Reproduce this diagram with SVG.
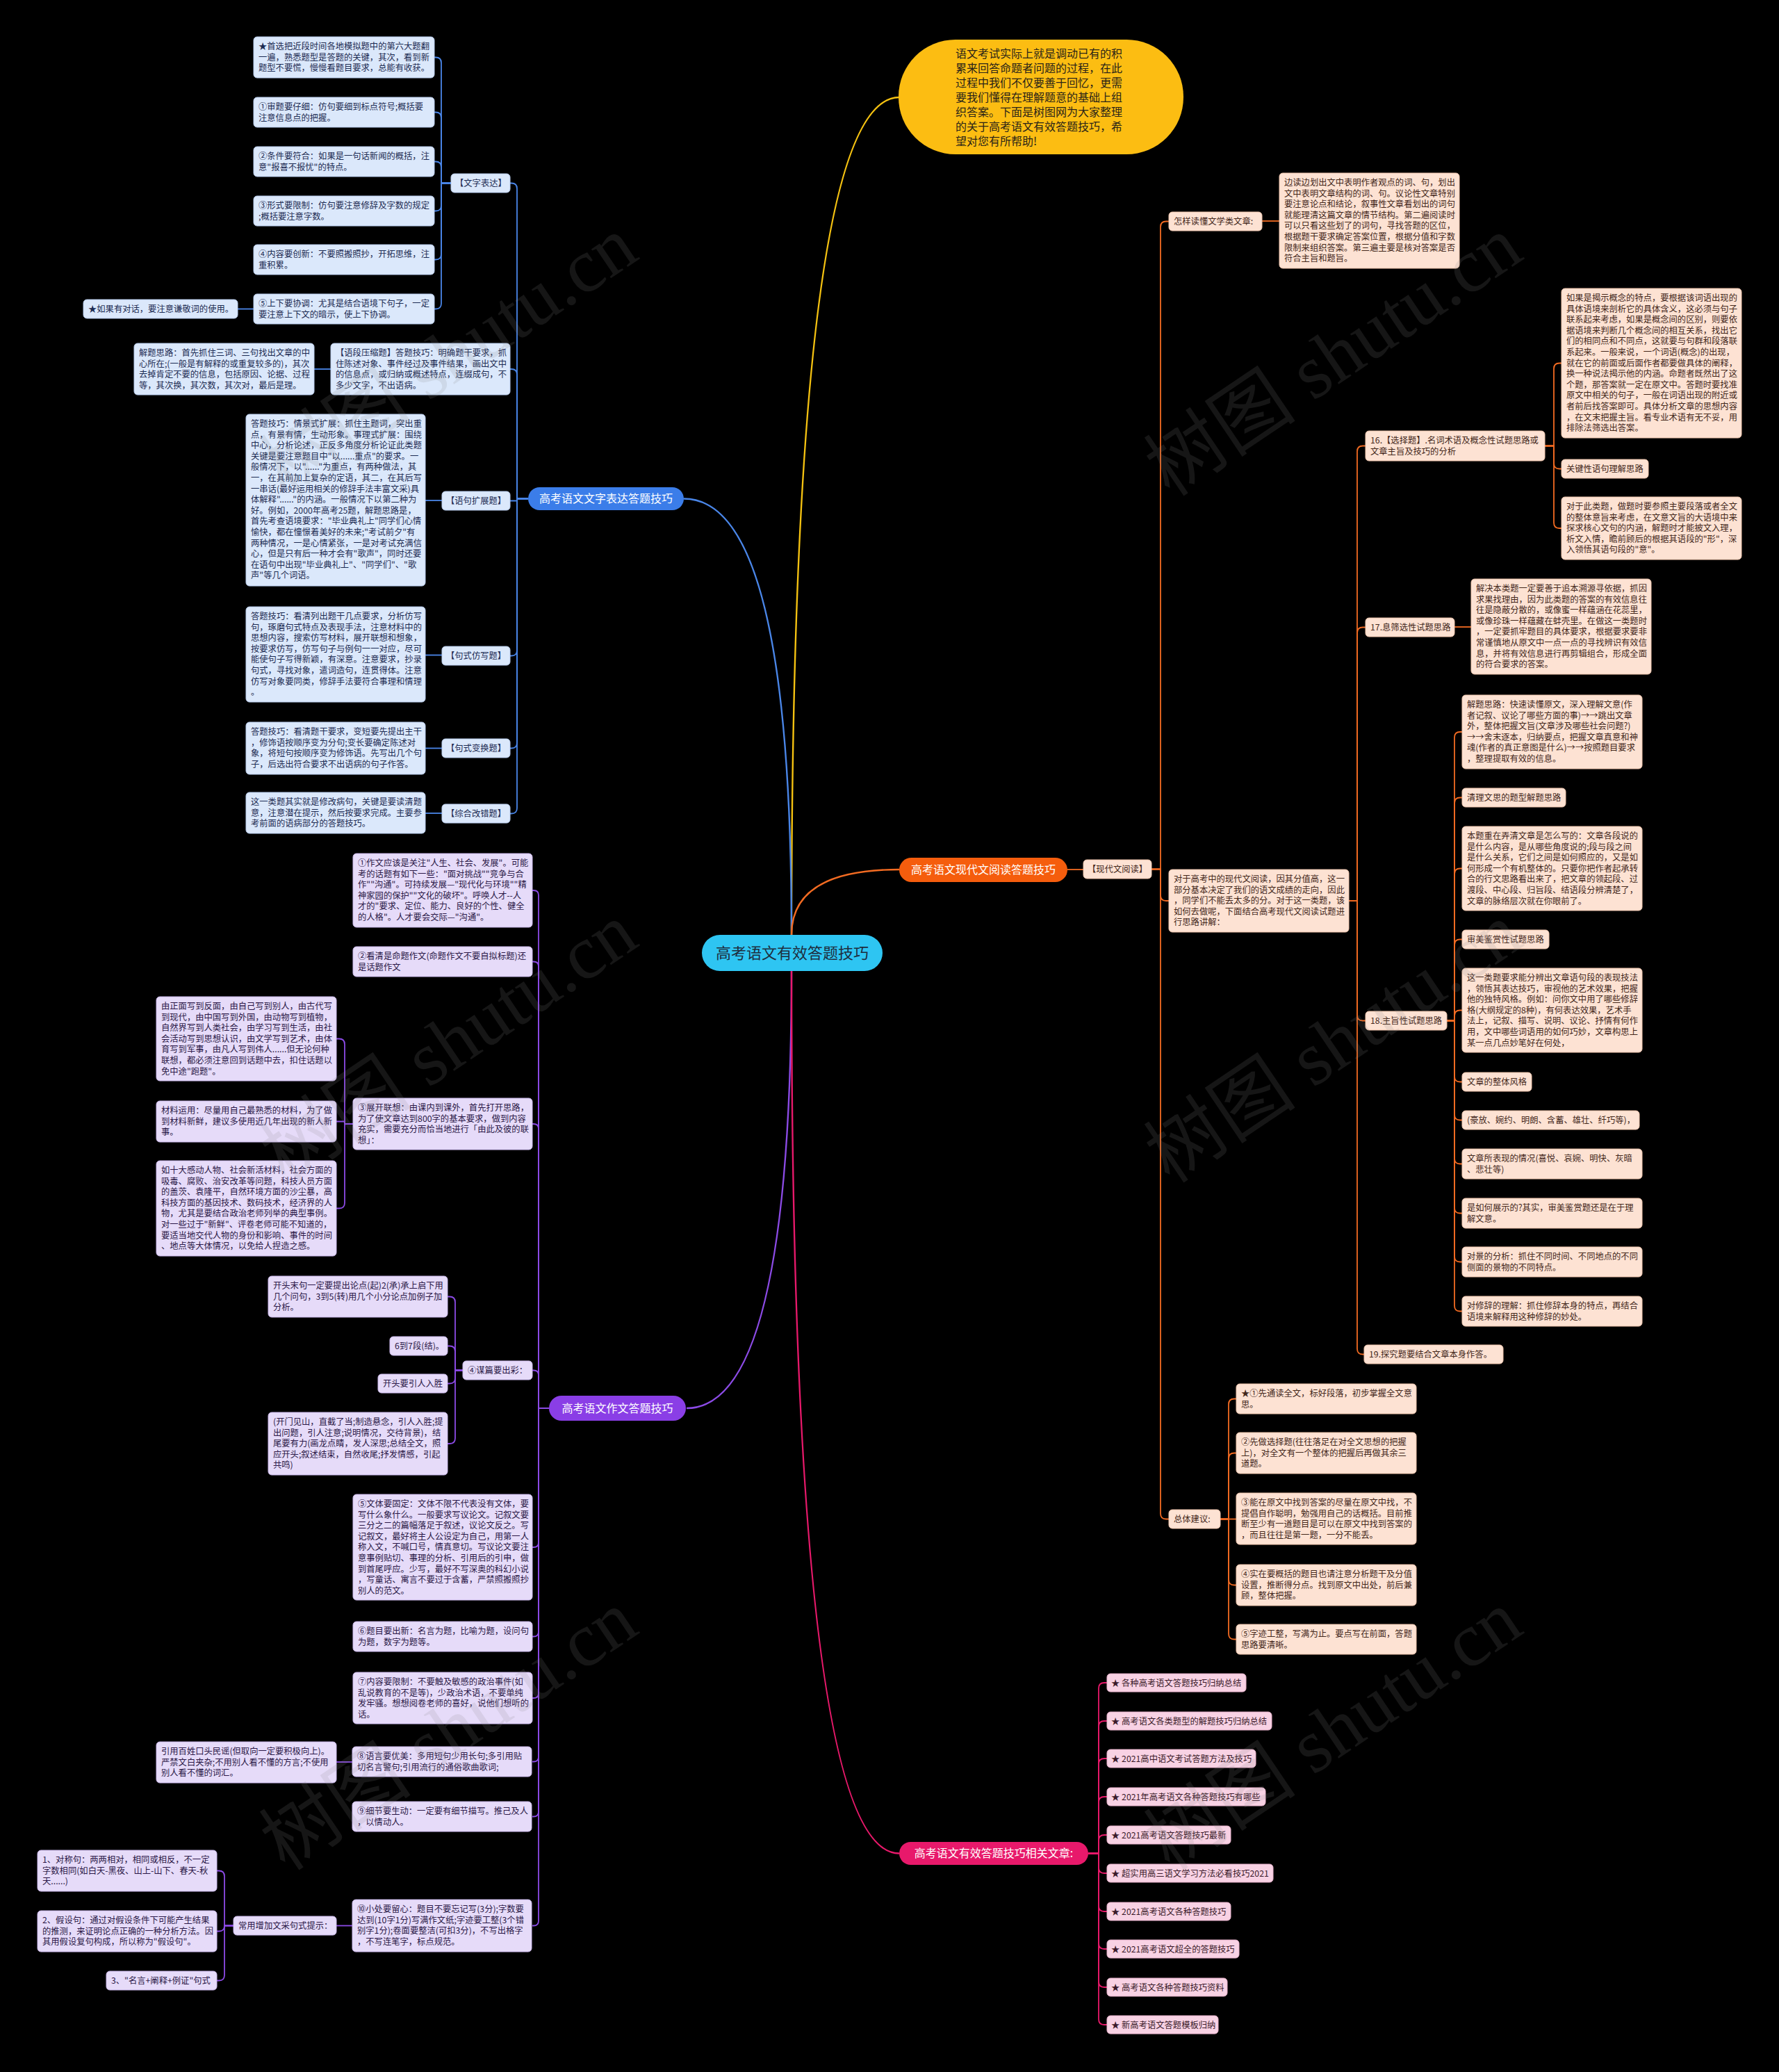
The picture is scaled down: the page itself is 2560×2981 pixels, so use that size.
<svg xmlns="http://www.w3.org/2000/svg" width="2560" height="2981" viewBox="0 0 2560 2981">
<style>
.t{font-family:'Noto Sans CJK SC','Liberation Sans',sans-serif;font-size:12.3px}
.bb{fill:#dbe8fb;stroke:#b9cdee;stroke-width:1}
.bt{fill:#1c2b52}
.pb{fill:#e6dbf9;stroke:#cbb9ec;stroke-width:1}
.pt{fill:#2b1847}
.ob{fill:#fde2d3;stroke:#efc5ad;stroke-width:1}
.ot{fill:#43271a}
.kb{fill:#f8d2e4;stroke:#e9b3cd;stroke-width:1}
.kt{fill:#3b1a2a}
.br{font-family:'Noto Sans CJK SC','Liberation Sans',sans-serif;font-size:16px;fill:#ffffff;text-anchor:middle}
.c{fill:none;stroke-width:1.8}
.m{fill:none;stroke-width:2.4}
.cb{stroke:#4a86e8}.cp{stroke:#8c4be6}.co{stroke:#f26b22}.ck{stroke:#e8196b}.cy{stroke:#f5c211}
.wm{font-family:'Liberation Serif','Noto Sans CJK SC',serif;font-size:110px;fill:#8a8a8a;fill-opacity:0.16;text-anchor:middle}
</style>
<rect x="0" y="0" width="2560" height="2981" fill="#000000"/>

<g id="connectors">
<path class="m cy" d="M1139,1345Q1139,140 1294,140"/>
<path class="m cb" d="M1139,1345Q1139,717.5 984,717.5"/>
<path class="m co" d="M1139,1345Q1139,1251 1294,1251"/>
<path class="m cp" d="M1139,1397Q1139,2026 988,2026"/>
<path class="m ck" d="M1139,1397Q1139,2666.5 1294,2666.5"/>

<path class="c cb" d="M760,717.5H744V271.5Q744,263.5 736,263.5H734"/>
<path class="c cb" d="M760,717.5H744V539Q744,531 736,531H734"/>
<path class="c cb" d="M760,717.5H744V720.5H734"/>
<path class="c cb" d="M760,717.5H744V935.5Q744,943.5 736,943.5H734"/>
<path class="c cb" d="M760,717.5H744V1068.5Q744,1076.5 736,1076.5H734"/>
<path class="c cb" d="M760,717.5H744V1162.5Q744,1170.5 736,1170.5H734"/>
<path class="c cb" d="M649,263.5H635V90.5Q635,82.5 627,82.5H625"/>
<path class="c cb" d="M649,263.5H635V169.5Q635,161.5 627,161.5H625"/>
<path class="c cb" d="M649,263.5H635V240.5Q635,232.5 627,232.5H625"/>
<path class="c cb" d="M649,263.5H635V295.5Q635,303.5 627,303.5H625"/>
<path class="c cb" d="M649,263.5H635V365.5Q635,373.5 627,373.5H625"/>
<path class="c cb" d="M649,263.5H635V436.5Q635,444.5 627,444.5H625"/>
<path class="c cb" d="M365,444.5H342"/>
<path class="c cb" d="M476,531H452"/>
<path class="c cb" d="M636,720H612"/>
<path class="c cb" d="M636,942.5H612"/>
<path class="c cb" d="M636,1076.5H612"/>
<path class="c cb" d="M636,1170H612"/>

<path class="c cp" d="M790,2026H775V1288Q775,1281 768,1281H766"/>
<path class="c cp" d="M790,2026H775V1390.5Q775,1383.5 768,1383.5H766"/>
<path class="c cp" d="M790,2026H775V1624Q775,1617 768,1617H766"/>
<path class="c cp" d="M790,2026H775V1978.5Q775,1971.5 768,1971.5H766"/>
<path class="c cp" d="M790,2026H775V2219Q775,2226 768,2226H766"/>
<path class="c cp" d="M790,2026H775V2347.5Q775,2354.5 768,2354.5H766"/>
<path class="c cp" d="M790,2026H775V2436Q775,2443 768,2443H766"/>
<path class="c cp" d="M790,2026H775V2527.5Q775,2534.5 768,2534.5H766"/>
<path class="c cp" d="M790,2026H775V2606.5Q775,2613.5 768,2613.5H766"/>
<path class="c cp" d="M790,2026H775V2763.5Q775,2770.5 768,2770.5H766"/>
<path class="c cp" d="M508,1617H496V1502.5Q496,1494.5 488,1494.5H484"/>
<path class="c cp" d="M508,1617H496V1613.5H484"/>
<path class="c cp" d="M508,1617H496V1730.5Q496,1738.5 488,1738.5H484"/>
<path class="c cp" d="M666,1971.5H655V1873.5Q655,1865.5 647,1865.5H644"/>
<path class="c cp" d="M666,1971.5H655V1944.5Q655,1936.5 647,1936.5H644"/>
<path class="c cp" d="M666,1971.5H655V1982.5Q655,1990.5 647,1990.5H644"/>
<path class="c cp" d="M666,1971.5H655V2069Q655,2077 647,2077H644"/>
<path class="c cp" d="M507,2535H484"/>
<path class="c cp" d="M507,2770.5H484"/>
<path class="c cp" d="M336,2770.5H323V2699.5Q323,2691.5 315,2691.5H312"/>
<path class="c cp" d="M336,2770.5H323Q323,2778.5 315,2778.5H312"/>
<path class="c cp" d="M336,2770.5H323V2841.5Q323,2849.5 315,2849.5H312"/>

<path class="c co" d="M1536,1251H1559"/>
<path class="c co" d="M1657,1250.5H1670V326.5Q1670,318.5 1678,318.5H1682"/>
<path class="c co" d="M1657,1250.5H1670V1288Q1670,1296 1678,1296H1682"/>
<path class="c co" d="M1657,1250.5H1670V2177.5Q1670,2185.5 1678,2185.5H1682"/>
<path class="c co" d="M1816,318H1841"/>
<path class="c co" d="M1941,1296H1953V649.5Q1953,641.5 1961,641.5H1965"/>
<path class="c co" d="M1941,1296H1953V910.5Q1953,902.5 1961,902.5H1965"/>
<path class="c co" d="M1941,1296H1953V1460.5Q1953,1468.5 1961,1468.5H1965"/>
<path class="c co" d="M1941,1296H1953V1940.5Q1953,1948.5 1961,1948.5H1963"/>
<path class="c co" d="M2223,641.5H2236V530.5Q2236,522.5 2244,522.5H2247"/>
<path class="c co" d="M2223,641.5H2236V666.5Q2236,674.5 2244,674.5H2247"/>
<path class="c co" d="M2223,641.5H2236V752Q2236,760 2244,760H2247"/>
<path class="c co" d="M2093,902H2117"/>
<path class="c co" d="M2082,1468.5H2093V1061Q2093,1053 2101,1053H2104"/>
<path class="c co" d="M2082,1468.5H2093V1155.5Q2093,1147.5 2101,1147.5H2104"/>
<path class="c co" d="M2082,1468.5H2093V1257.5Q2093,1249.5 2101,1249.5H2104"/>
<path class="c co" d="M2082,1468.5H2093V1359.5Q2093,1351.5 2101,1351.5H2104"/>
<path class="c co" d="M2082,1468.5H2093V1461.5Q2093,1453.5 2101,1453.5H2104"/>
<path class="c co" d="M2082,1468.5H2093V1548.5Q2093,1556.5 2101,1556.5H2104"/>
<path class="c co" d="M2082,1468.5H2093V1603.5Q2093,1611.5 2101,1611.5H2104"/>
<path class="c co" d="M2082,1468.5H2093V1666.5Q2093,1674.5 2101,1674.5H2104"/>
<path class="c co" d="M2082,1468.5H2093V1737.5Q2093,1745.5 2101,1745.5H2104"/>
<path class="c co" d="M2082,1468.5H2093V1807.5Q2093,1815.5 2101,1815.5H2104"/>
<path class="c co" d="M2082,1468.5H2093V1878.5Q2093,1886.5 2101,1886.5H2104"/>
<path class="c co" d="M1756,2185.5H1768V2020.5Q1768,2012.5 1776,2012.5H1779"/>
<path class="c co" d="M1756,2185.5H1768V2098.5Q1768,2090.5 1776,2090.5H1779"/>
<path class="c co" d="M1756,2185.5H1779"/>
<path class="c co" d="M1756,2185.5H1768V2272.5Q1768,2280.5 1776,2280.5H1779"/>
<path class="c co" d="M1756,2185.5H1768V2350.5Q1768,2358.5 1776,2358.5H1779"/>

<path class="c ck" d="M1566,2666.5H1581V2429Q1581,2421 1589,2421H1593"/>
<path class="c ck" d="M1566,2666.5H1581V2484Q1581,2476 1589,2476H1593"/>
<path class="c ck" d="M1566,2666.5H1581V2538Q1581,2530 1589,2530H1593"/>
<path class="c ck" d="M1566,2666.5H1581V2593Q1581,2585 1589,2585H1593"/>
<path class="c ck" d="M1566,2666.5H1581V2648Q1581,2640 1589,2640H1593"/>
<path class="c ck" d="M1566,2666.5H1581V2687Q1581,2695 1589,2695H1593"/>
<path class="c ck" d="M1566,2666.5H1581V2742Q1581,2750 1589,2750H1593"/>
<path class="c ck" d="M1566,2666.5H1581V2796Q1581,2804 1589,2804H1593"/>
<path class="c ck" d="M1566,2666.5H1581V2851Q1581,2859 1589,2859H1593"/>
<path class="c ck" d="M1566,2666.5H1581V2905Q1581,2913 1589,2913H1593"/>
</g>

<g id="center"><rect x="1010" y="1345" width="260" height="52" rx="26" fill="#2ec5f2"/><text x="1140" y="1379" font-family="'Noto Sans CJK SC','Liberation Sans',sans-serif" font-size="22" fill="#1e2d3d" text-anchor="middle">高考语文有效答题技巧</text></g>

<g id="intro"><rect x="1293" y="57" width="410" height="165" rx="82" fill="#fcbd12"/>
<text font-family="'Noto Sans CJK SC','Liberation Sans',sans-serif" font-size="16" fill="#2a2418"><tspan x="1375" y="83">语文考试实际上就是调动已有的积</tspan><tspan x="1375" y="104">累来回答命题者问题的过程，在此</tspan><tspan x="1375" y="125">过程中我们不仅要善于回忆，更需</tspan><tspan x="1375" y="146">要我们懂得在理解题意的基础上组</tspan><tspan x="1375" y="167">织答案。下面是树图网为大家整理</tspan><tspan x="1375" y="188">的关于高考语文有效答题技巧，希</tspan><tspan x="1375" y="209">望对您有所帮助!</tspan></text></g>

<g id="b-blue"><rect x="760" y="701" width="224" height="33" rx="16.5" fill="#3b7de9"/><text class="br" x="872" y="723">高考语文文字表达答题技巧</text></g>
<g id="b-orange"><rect x="1294" y="1234" width="242" height="35" rx="17.5" fill="#f55d0d"/><text class="br" x="1415" y="1257">高考语文现代文阅读答题技巧</text></g>
<g id="b-purple"><rect x="790" y="2008" width="197" height="36" rx="18" fill="#8a3ee6"/><text class="br" x="888.5" y="2032">高考语文作文答题技巧</text></g>
<g id="b-pink"><rect x="1294" y="2650" width="272" height="33" rx="16.5" fill="#e8196b"/><text class="br" x="1430" y="2672">高考语文有效答题技巧相关文章:</text></g>

<g id="a1"><rect class="bb" x="365" y="53" width="260" height="59" rx="5"/><text class="t bt"><tspan x="372" y="71">★首选把近段时间各地模拟题中的第六大题翻</tspan><tspan x="372" y="86.6">一遍，熟悉题型是答题的关键，其次，看到新</tspan><tspan x="372" y="102.2">题型不要慌，慢慢看题目要求，总能有收获。</tspan></text></g>
<g id="a2"><rect class="bb" x="365" y="140" width="260" height="43" rx="5"/><text class="t bt"><tspan x="372" y="158">①审题要仔细：仿句要细到标点符号;概括要</tspan><tspan x="372" y="173.6">注意信息点的把握。</tspan></text></g>
<g id="a3"><rect class="bb" x="365" y="211" width="260" height="43" rx="5"/><text class="t bt"><tspan x="372" y="229">②条件要符合：如果是一句话新闻的概括，注</tspan><tspan x="372" y="244.6">意"报喜不报忧"的特点。</tspan></text></g>
<g id="a4"><rect class="bb" x="365" y="282" width="260" height="43" rx="5"/><text class="t bt"><tspan x="372" y="300">③形式要限制：仿句要注意修辞及字数的规定</tspan><tspan x="372" y="315.6">;概括要注意字数。</tspan></text></g>
<g id="a5"><rect class="bb" x="365" y="352" width="260" height="43" rx="5"/><text class="t bt"><tspan x="372" y="370">④内容要创新：不要照搬照抄，开拓思维，注</tspan><tspan x="372" y="385.6">重积累。</tspan></text></g>
<g id="a6"><rect class="bb" x="365" y="423" width="260" height="43" rx="5"/><text class="t bt"><tspan x="372" y="441">⑤上下要协调：尤其是结合语境下句子，一定</tspan><tspan x="372" y="456.6">要注意上下文的暗示，使上下协调。</tspan></text></g>
<g id="a7"><rect class="bb" x="120" y="431" width="222" height="27" rx="5"/><text class="t bt"><tspan x="127" y="449">★如果有对话，要注意谦敬词的使用。</tspan></text></g>
<g id="wzbd"><rect class="bb" x="649" y="250" width="85" height="27" rx="5"/><text class="t bt"><tspan x="655" y="268">【文字表达】</tspan></text></g>
<g id="b1"><rect class="bb" x="193" y="494" width="259" height="74" rx="5"/><text class="t bt"><tspan x="200" y="512">解题思路：首先抓住三词、三句找出文章的中</tspan><tspan x="200" y="527.6">心所在;(一般是有解释的或重复较多的)，其次</tspan><tspan x="200" y="543.2">去掉肯定不要的信息，包括原因、论据、过程</tspan><tspan x="200" y="558.8">等，其次换，其次数，其次对，最后是理。</tspan></text></g>
<g id="b2"><rect class="bb" x="476" y="494" width="258" height="74" rx="5"/><text class="t bt"><tspan x="483" y="512">【语段压缩题】答题技巧：明确题干要求，抓</tspan><tspan x="483" y="527.6">住陈述对象、事件经过及事件结果，画出文中</tspan><tspan x="483" y="543.2">的信息点，或归纳或概述特点，连缀成句，不</tspan><tspan x="483" y="558.8">多少文字，不出语病。</tspan></text></g>
<g id="b3"><rect class="bb" x="354" y="596" width="258" height="247" rx="5"/><text class="t bt"><tspan x="361" y="614">答题技巧：情景式扩展：抓住主题词，突出重</tspan><tspan x="361" y="629.6">点，有景有情，生动形象。事理式扩展：围绕</tspan><tspan x="361" y="645.2">中心，分析论述，正反多角度分析论证此类题</tspan><tspan x="361" y="660.8">关键是要注意题目中"以......重点"的要求。一</tspan><tspan x="361" y="676.4">般情况下，以"......"为重点，有两种做法，其</tspan><tspan x="361" y="692">一，在其前加上复杂的定语，其二，在其后写</tspan><tspan x="361" y="707.6">一串话(最好运用相关的修辞手法丰富文采)具</tspan><tspan x="361" y="723.2">体解释"......"的内涵。一般情况下以第二种为</tspan><tspan x="361" y="738.8">好。例如，2000年高考25题，解题思路是，</tspan><tspan x="361" y="754.4">首先考查语境要求："毕业典礼上"同学们心情</tspan><tspan x="361" y="770">愉快，都在憧憬着美好的未来;"考试前夕"有</tspan><tspan x="361" y="785.6">两种情况，一是心情紧张，一是对考试充满信</tspan><tspan x="361" y="801.2">心，但是只有后一种才会有"歌声"，同时还要</tspan><tspan x="361" y="816.8">在语句中出现"毕业典礼上"、"同学们"、"歌</tspan><tspan x="361" y="832.4">声"等几个词语。</tspan></text></g>
<g id="yjkz"><rect class="bb" x="636" y="707" width="98" height="27" rx="5"/><text class="t bt"><tspan x="642" y="725">【语句扩展题】</tspan></text></g>
<g id="b4"><rect class="bb" x="354" y="873" width="258" height="137" rx="5"/><text class="t bt"><tspan x="361" y="891">答题技巧：看清列出题干几点要求，分析仿写</tspan><tspan x="361" y="906.6">句，琢磨句式特点及表现手法，注意材料中的</tspan><tspan x="361" y="922.2">思想内容，搜索仿写材料，展开联想和想象，</tspan><tspan x="361" y="937.8">按要求仿写，仿写句子与例句一一对应，尽可</tspan><tspan x="361" y="953.4">能使句子写得新颖，有深意。注意要求，抄录</tspan><tspan x="361" y="969">句式，寻找对象，遣词造句，连贯得体。注意</tspan><tspan x="361" y="984.6">仿写对象要同类，修辞手法要符合事理和情理</tspan><tspan x="361" y="1000.2">。</tspan></text></g>
<g id="jsfx"><rect class="bb" x="636" y="930" width="98" height="27" rx="5"/><text class="t bt"><tspan x="642" y="948">【句式仿写题】</tspan></text></g>
<g id="b5"><rect class="bb" x="354" y="1039" width="258" height="75" rx="5"/><text class="t bt"><tspan x="361" y="1057">答题技巧：看清题干要求，变短要先提出主干</tspan><tspan x="361" y="1072.6">，修饰语按顺序变为分句;变长要确定陈述对</tspan><tspan x="361" y="1088.2">象，将短句按顺序变为修饰语。先写出几个句</tspan><tspan x="361" y="1103.8">子，后选出符合要求不出语病的句子作答。</tspan></text></g>
<g id="jsbh"><rect class="bb" x="636" y="1063" width="98" height="27" rx="5"/><text class="t bt"><tspan x="642" y="1081">【句式变换题】</tspan></text></g>
<g id="b6"><rect class="bb" x="354" y="1140" width="258" height="59" rx="5"/><text class="t bt"><tspan x="361" y="1158">这一类题其实就是修改病句，关键是要读清题</tspan><tspan x="361" y="1173.6">意，注意潜在提示，然后按要求完成。主要参</tspan><tspan x="361" y="1189.2">考前面的语病部分的答题技巧。</tspan></text></g>
<g id="zhgc"><rect class="bb" x="636" y="1157" width="98" height="27" rx="5"/><text class="t bt"><tspan x="642" y="1175">【综合改错题】</tspan></text></g>

<g id="c1"><rect class="pb" x="508" y="1228" width="258" height="106" rx="5"/><text class="t pt"><tspan x="515" y="1246">①作文应该是关注"人生、社会、发展"。可能</tspan><tspan x="515" y="1261.6">考的话题有如下一些："面对挑战""竞争与合</tspan><tspan x="515" y="1277.2">作""沟通"。可持续发展—"现代化与环境""精</tspan><tspan x="515" y="1292.8">神家园的保护""文化的破坏"。呼唤人才--人</tspan><tspan x="515" y="1308.4">才的"要求、定位、能力、良好的个性、健全</tspan><tspan x="515" y="1324">的人格"。人才要会交际—"沟通"。</tspan></text></g>
<g id="c2"><rect class="pb" x="508" y="1362" width="258" height="43" rx="5"/><text class="t pt"><tspan x="515" y="1380">②看清是命题作文(命题作文不要自拟标题)还</tspan><tspan x="515" y="1395.6">是话题作文</tspan></text></g>
<g id="c3"><rect class="pb" x="225" y="1434" width="259" height="121" rx="5"/><text class="t pt"><tspan x="232" y="1452">由正面写到反面，由自己写到别人，由古代写</tspan><tspan x="232" y="1467.6">到现代，由中国写到外国，由动物写到植物，</tspan><tspan x="232" y="1483.2">自然界写到人类社会，由学习写到生活，由社</tspan><tspan x="232" y="1498.8">会活动写到思想认识，由文学写到艺术，由体</tspan><tspan x="232" y="1514.4">育写到军事，由凡人写到伟人......但无论何种</tspan><tspan x="232" y="1530">联想，都必须注意回到话题中去，扣住话题以</tspan><tspan x="232" y="1545.6">免中途"跑题"。</tspan></text></g>
<g id="c4"><rect class="pb" x="225" y="1584" width="259" height="59" rx="5"/><text class="t pt"><tspan x="232" y="1602">材料运用：尽量用自己最熟悉的材料，为了做</tspan><tspan x="232" y="1617.6">到材料新鲜，建议多使用近几年出现的新人新</tspan><tspan x="232" y="1633.2">事。</tspan></text></g>
<g id="c5"><rect class="pb" x="225" y="1670" width="259" height="137" rx="5"/><text class="t pt"><tspan x="232" y="1688">如十大感动人物、社会新活材料，社会方面的</tspan><tspan x="232" y="1703.6">吸毒、腐败、治安改革等问题，科技人员方面</tspan><tspan x="232" y="1719.2">的盖茨、袁隆平，自然环境方面的沙尘暴，高</tspan><tspan x="232" y="1734.8">科技方面的基因技术、数码技术，经济界的人</tspan><tspan x="232" y="1750.4">物，尤其是要结合政治老师列举的典型事例。</tspan><tspan x="232" y="1766">对一些过于"新鲜"、评卷老师可能不知道的，</tspan><tspan x="232" y="1781.6">要适当地交代人物的身份和影响、事件的时间</tspan><tspan x="232" y="1797.2">、地点等大体情况，以免给人捏造之感。</tspan></text></g>
<g id="c6"><rect class="pb" x="508" y="1580" width="258" height="74" rx="5"/><text class="t pt"><tspan x="515" y="1598">③展开联想：由课内到课外，首先打开思路，</tspan><tspan x="515" y="1613.6">为了使文章达到800字的基本要求，做到内容</tspan><tspan x="515" y="1629.2">充实，需要充分而恰当地进行「由此及彼的联</tspan><tspan x="515" y="1644.8">想」：</tspan></text></g>
<g id="d1"><rect class="pb" x="386" y="1836" width="258" height="59" rx="5"/><text class="t pt"><tspan x="393" y="1854">开头末句一定要提出论点(起)2(承)承上启下用</tspan><tspan x="393" y="1869.6">几个问句，3到5(转)用几个小分论点加例子加</tspan><tspan x="393" y="1885.2">分析。</tspan></text></g>
<g id="d2"><rect class="pb" x="561" y="1923" width="83" height="27" rx="5"/><text class="t pt"><tspan x="568" y="1941">6到7段(结)。</tspan></text></g>
<g id="d3"><rect class="pb" x="544" y="1977" width="100" height="27" rx="5"/><text class="t pt"><tspan x="551" y="1995">开头要引人入胜</tspan></text></g>
<g id="d4"><rect class="pb" x="386" y="2032" width="258" height="90" rx="5"/><text class="t pt"><tspan x="393" y="2050">(开门见山，直截了当;制造悬念，引人入胜;提</tspan><tspan x="393" y="2065.6">出问题，引人注意;说明情况，交待背景)，结</tspan><tspan x="393" y="2081.2">尾要有力(画龙点睛，发人深思;总结全文，照</tspan><tspan x="393" y="2096.8">应开头;叙述结束，自然收尾;抒发情感，引起</tspan><tspan x="393" y="2112.4">共鸣)</tspan></text></g>
<g id="d5"><rect class="pb" x="666" y="1958" width="100" height="27" rx="5"/><text class="t pt"><tspan x="673" y="1976">④谋篇要出彩：</tspan></text></g>
<g id="d6"><rect class="pb" x="508" y="2150" width="258" height="152" rx="5"/><text class="t pt"><tspan x="515" y="2168">⑤文体要固定：文体不限不代表没有文体，要</tspan><tspan x="515" y="2183.6">写什么象什么。一般要求写议论文。记叙文要</tspan><tspan x="515" y="2199.2">三分之二的篇幅落足于叙述，议论文反之。写</tspan><tspan x="515" y="2214.8">记叙文，最好将主人公设定为自己，用第一人</tspan><tspan x="515" y="2230.4">称入文，不喊口号，情真意切。写议论文要注</tspan><tspan x="515" y="2246">意事例贴切、事理的分析、引用后的引申，做</tspan><tspan x="515" y="2261.6">到首尾呼应。少写，最好不写深奥的科幻小说</tspan><tspan x="515" y="2277.2">，写童话、寓言不要过于含蓄，严禁照搬照抄</tspan><tspan x="515" y="2292.8">别人的范文。</tspan></text></g>
<g id="d7"><rect class="pb" x="508" y="2333" width="258" height="43" rx="5"/><text class="t pt"><tspan x="515" y="2351">⑥题目要出新：名言为题，比喻为题，设问句</tspan><tspan x="515" y="2366.6">为题，数字为题等。</tspan></text></g>
<g id="d8"><rect class="pb" x="508" y="2406" width="258" height="74" rx="5"/><text class="t pt"><tspan x="515" y="2424">⑦内容要限制：不要触及敏感的政治事件(如</tspan><tspan x="515" y="2439.6">乱说教育的不是等)，少政治术语，不要单纯</tspan><tspan x="515" y="2455.2">发牢骚。想想阅卷老师的喜好，说他们想听的</tspan><tspan x="515" y="2470.8">话。</tspan></text></g>
<g id="e1"><rect class="pb" x="225" y="2506" width="259" height="59" rx="5"/><text class="t pt"><tspan x="232" y="2524">引用百姓口头民谣(但取向一定要积极向上)。</tspan><tspan x="232" y="2539.6">严禁文白夹杂;不用别人看不懂的方言;不使用</tspan><tspan x="232" y="2555.2">别人看不懂的词汇。</tspan></text></g>
<g id="e2"><rect class="pb" x="507" y="2513" width="258" height="43" rx="5"/><text class="t pt"><tspan x="514" y="2531">⑧语言要优美：多用短句少用长句;多引用贴</tspan><tspan x="514" y="2546.6">切名言警句;引用流行的通俗歌曲歌词;</tspan></text></g>
<g id="e3"><rect class="pb" x="507" y="2592" width="258" height="43" rx="5"/><text class="t pt"><tspan x="514" y="2610">⑨细节要生动：一定要有细节描写。推己及人</tspan><tspan x="514" y="2625.6">，以情动人。</tspan></text></g>
<g id="e4"><rect class="pb" x="507" y="2733" width="258" height="75" rx="5"/><text class="t pt"><tspan x="514" y="2751">⑩小处要留心：题目不要忘记写(3分);字数要</tspan><tspan x="514" y="2766.6">达到(10字1分)写满作文纸;字迹要工整(3个错</tspan><tspan x="514" y="2782.2">别字1分);卷面要整洁(可扣3分)，不写出格字</tspan><tspan x="514" y="2797.8">，不写连笔字，标点规范。</tspan></text></g>
<g id="e5"><rect class="pb" x="336" y="2757" width="148" height="27" rx="5"/><text class="t pt"><tspan x="343" y="2775">常用增加文采句式提示：</tspan></text></g>
<g id="e6"><rect class="pb" x="54" y="2662" width="258" height="59" rx="5"/><text class="t pt"><tspan x="61" y="2680">1、对称句：两两相对，相同或相反，不一定</tspan><tspan x="61" y="2695.6">字数相同(如白天-黑夜、山上-山下、春天-秋</tspan><tspan x="61" y="2711.2">天......)</tspan></text></g>
<g id="e7"><rect class="pb" x="54" y="2749" width="258" height="59" rx="5"/><text class="t pt"><tspan x="61" y="2767">2、假设句：通过对假设条件下可能产生结果</tspan><tspan x="61" y="2782.6">的推测，来证明论点正确的一种分析方法。因</tspan><tspan x="61" y="2798.2">其用假设复句构成，所以称为"假设句"。</tspan></text></g>
<g id="e8"><rect class="pb" x="153" y="2836" width="159" height="27" rx="5"/><text class="t pt"><tspan x="160" y="2854">3、"名言+阐释+例证"句式</tspan></text></g>

<g id="xdwyd"><rect class="ob" x="1559" y="1237" width="98" height="27" rx="5"/><text class="t ot"><tspan x="1565" y="1255">【现代文阅读】</tspan></text></g>
<g id="zyd"><rect class="ob" x="1682" y="305" width="134" height="27" rx="5"/><text class="t ot"><tspan x="1689" y="323">怎样读懂文学类文章:</tspan></text></g>
<g id="f1"><rect class="ob" x="1841" y="249" width="259" height="137" rx="5"/><text class="t ot"><tspan x="1848" y="267">边读边划出文中表明作者观点的词、句，划出</tspan><tspan x="1848" y="282.6">文中表明文章结构的词、句。议论性文章特别</tspan><tspan x="1848" y="298.2">要注意论点和结论，叙事性文章看划出的词句</tspan><tspan x="1848" y="313.8">就能理清这篇文章的情节结构。第二遍阅读时</tspan><tspan x="1848" y="329.4">可以只看这些划了的词句，寻找答题的区位，</tspan><tspan x="1848" y="345">根据题干要求确定答案位置，根据分值和字数</tspan><tspan x="1848" y="360.6">限制来组织答案。第三遍主要是核对答案是否</tspan><tspan x="1848" y="376.2">符合主旨和题旨。</tspan></text></g>
<g id="g1"><rect class="ob" x="1965" y="620" width="258" height="43" rx="5"/><text class="t ot"><tspan x="1972" y="638">16.【选择题】.名词术语及概念性试题思路或</tspan><tspan x="1972" y="653.6">文章主旨及技巧的分析</tspan></text></g>
<g id="g2"><rect class="ob" x="2247" y="415" width="259" height="215" rx="5"/><text class="t ot"><tspan x="2254" y="433">如果是揭示概念的特点，要根据该词语出现的</tspan><tspan x="2254" y="448.6">具体语境来剖析它的具体含义，这必须与句子</tspan><tspan x="2254" y="464.2">联系起来考虑，如果是概念间的区别，则要依</tspan><tspan x="2254" y="479.8">据语境来判断几个概念间的相互关系，找出它</tspan><tspan x="2254" y="495.4">们的相同点和不同点，这就要与句群和段落联</tspan><tspan x="2254" y="511">系起来。一般来说，一个词语(概念)的出现，</tspan><tspan x="2254" y="526.6">就在它的前面或后面作者都要做具体的阐释，</tspan><tspan x="2254" y="542.2">换一种说法揭示他的内涵。命题者既然出了这</tspan><tspan x="2254" y="557.8">个题，那答案就一定在原文中。答题时要找准</tspan><tspan x="2254" y="573.4">原文中相关的句子，一般在词语出现的附近或</tspan><tspan x="2254" y="589">者前后找答案即可。具体分析文章的思想内容</tspan><tspan x="2254" y="604.6">，在文末把握主旨。看专业术语有无不妥，用</tspan><tspan x="2254" y="620.2">排除法筛选出答案。</tspan></text></g>
<g id="g3"><rect class="ob" x="2247" y="661" width="125" height="27" rx="5"/><text class="t ot"><tspan x="2254" y="679">关键性语句理解思路</tspan></text></g>
<g id="g4"><rect class="ob" x="2247" y="715" width="259" height="90" rx="5"/><text class="t ot"><tspan x="2254" y="733">对于此类题，做题时要参照主要段落或者全文</tspan><tspan x="2254" y="748.6">的整体意旨来考虑，在文意文旨的大语境中来</tspan><tspan x="2254" y="764.2">探求核心文句的内涵，解题时才能披文入理，</tspan><tspan x="2254" y="779.8">析文入情，瞻前顾后的根据其语段的"形"，深</tspan><tspan x="2254" y="795.4">入领悟其语句段的"意"。</tspan></text></g>
<g id="h1"><rect class="ob" x="1965" y="889" width="128" height="27" rx="5"/><text class="t ot"><tspan x="1972" y="907">17.息筛选性试题思路</tspan></text></g>
<g id="h2"><rect class="ob" x="2117" y="833" width="259" height="137" rx="5"/><text class="t ot"><tspan x="2124" y="851">解决本类题一定要善于追本溯源寻依据，抓因</tspan><tspan x="2124" y="866.6">求果找理由，因为此类题的答案的有效信息往</tspan><tspan x="2124" y="882.2">往是隐蔽分散的，或像蜜一样蕴涵在花蕊里，</tspan><tspan x="2124" y="897.8">或像珍珠一样蕴藏在蚌壳里。在做这一类题时</tspan><tspan x="2124" y="913.4">，一定要抓牢题目的具体要求，根据要求要非</tspan><tspan x="2124" y="929">常谨慎地从原文中一点一点的寻找辨识有效信</tspan><tspan x="2124" y="944.6">息，并将有效信息进行再剪辑组合，形成全面</tspan><tspan x="2124" y="960.2">的符合要求的答案。</tspan></text></g>
<g id="h3"><rect class="ob" x="2104" y="1000" width="259" height="106" rx="5"/><text class="t ot"><tspan x="2111" y="1018">解题思路：快速读懂原文，深入理解文意(作</tspan><tspan x="2111" y="1033.6">者记叙、议论了哪些方面的事)→→跳出文章</tspan><tspan x="2111" y="1049.2">外，整体把握文旨(文章涉及哪些社会问题?)</tspan><tspan x="2111" y="1064.8">→→舍末逐本，归纳要点，把握文章真意和神</tspan><tspan x="2111" y="1080.4">魂(作者的真正意图是什么)→→按照题目要求</tspan><tspan x="2111" y="1096">，整理提取有效的信息。</tspan></text></g>
<g id="h4"><rect class="ob" x="2104" y="1134" width="149" height="27" rx="5"/><text class="t ot"><tspan x="2111" y="1152">清理文思的题型解题思路</tspan></text></g>
<g id="h5"><rect class="ob" x="2104" y="1189" width="259" height="121" rx="5"/><text class="t ot"><tspan x="2111" y="1207">本题重在弄清文章是怎么写的：文章各段说的</tspan><tspan x="2111" y="1222.6">是什么内容，是从哪些角度说的;段与段之间</tspan><tspan x="2111" y="1238.2">是什么关系，它们之间是如何照应的，又是如</tspan><tspan x="2111" y="1253.8">何形成一个有机整体的。只要你把作者起承转</tspan><tspan x="2111" y="1269.4">合的行文思路看出来了，把文章的领起段、过</tspan><tspan x="2111" y="1285">渡段、中心段、归旨段、结语段分辨清楚了，</tspan><tspan x="2111" y="1300.6">文章的脉络层次就在你眼前了。</tspan></text></g>
<g id="h6"><rect class="ob" x="2104" y="1338" width="125" height="27" rx="5"/><text class="t ot"><tspan x="2111" y="1356">审美鉴赏性试题思路</tspan></text></g>
<g id="h7"><rect class="ob" x="2104" y="1393" width="259" height="121" rx="5"/><text class="t ot"><tspan x="2111" y="1411">这一类题要求能分辨出文章语句段的表现技法</tspan><tspan x="2111" y="1426.6">，领悟其表达技巧，审视他的艺术效果，把握</tspan><tspan x="2111" y="1442.2">他的独特风格。例如：问你文中用了哪些修辞</tspan><tspan x="2111" y="1457.8">格(大纲规定的8种)，有何表达效果，艺术手</tspan><tspan x="2111" y="1473.4">法上，记叙、描写、说明、议论、抒情有何作</tspan><tspan x="2111" y="1489">用，文中哪些词语用的如何巧妙，文章构思上</tspan><tspan x="2111" y="1504.6">某一点几点妙笔好在何处，</tspan></text></g>
<g id="h8"><rect class="ob" x="1965" y="1455" width="117" height="27" rx="5"/><text class="t ot"><tspan x="1972" y="1473">18.主旨性试题思路</tspan></text></g>
<g id="h9"><rect class="ob" x="1682" y="1251" width="259" height="90" rx="5"/><text class="t ot"><tspan x="1689" y="1269">对于高考中的现代文阅读，因其分值高，这一</tspan><tspan x="1689" y="1284.6">部分基本决定了我们的语文成绩的走向，因此</tspan><tspan x="1689" y="1300.2">，同学们不能丢太多的分。对于这一类题，该</tspan><tspan x="1689" y="1315.8">如何去做呢，下面结合高考现代文阅读试题进</tspan><tspan x="1689" y="1331.4">行思路讲解：</tspan></text></g>
<g id="i1"><rect class="ob" x="2104" y="1543" width="100" height="27" rx="5"/><text class="t ot"><tspan x="2111" y="1561">文章的整体风格</tspan></text></g>
<g id="i2"><rect class="ob" x="2104" y="1598" width="255" height="27" rx="5"/><text class="t ot"><tspan x="2111" y="1616">(豪放、婉约、明朗、含蓄、雄壮、纤巧等)，</tspan></text></g>
<g id="i3"><rect class="ob" x="2104" y="1653" width="259" height="43" rx="5"/><text class="t ot"><tspan x="2111" y="1671">文章所表现的情况(喜悦、哀婉、明快、灰暗</tspan><tspan x="2111" y="1686.6">、悲壮等)</tspan></text></g>
<g id="i4"><rect class="ob" x="2104" y="1724" width="259" height="43" rx="5"/><text class="t ot"><tspan x="2111" y="1742">是如何展示的?其实，审美鉴赏题还是在于理</tspan><tspan x="2111" y="1757.6">解文意。</tspan></text></g>
<g id="i5"><rect class="ob" x="2104" y="1794" width="259" height="43" rx="5"/><text class="t ot"><tspan x="2111" y="1812">对景的分析：抓住不同时间、不同地点的不同</tspan><tspan x="2111" y="1827.6">侧面的景物的不同特点。</tspan></text></g>
<g id="i6"><rect class="ob" x="2104" y="1865" width="259" height="43" rx="5"/><text class="t ot"><tspan x="2111" y="1883">对修辞的理解：抓住修辞本身的特点，再结合</tspan><tspan x="2111" y="1898.6">语境来解释用这种修辞的妙处。</tspan></text></g>
<g id="i7"><rect class="ob" x="1963" y="1935" width="200" height="27" rx="5"/><text class="t ot"><tspan x="1970" y="1953">19.探究题要结合文章本身作答。</tspan></text></g>
<g id="j0"><rect class="ob" x="1682" y="2172" width="74" height="27" rx="5"/><text class="t ot"><tspan x="1689" y="2190">总体建议:</tspan></text></g>
<g id="j1"><rect class="ob" x="1779" y="1991" width="259" height="43" rx="5"/><text class="t ot"><tspan x="1786" y="2009">★①先通读全文，标好段落，初步掌握全文意</tspan><tspan x="1786" y="2024.6">思。</tspan></text></g>
<g id="j2"><rect class="ob" x="1779" y="2061" width="259" height="59" rx="5"/><text class="t ot"><tspan x="1786" y="2079">②先做选择题(往往落足在对全文思想的把握</tspan><tspan x="1786" y="2094.6">上)，对全文有一个整体的把握后再做其余三</tspan><tspan x="1786" y="2110.2">道题。</tspan></text></g>
<g id="j3"><rect class="ob" x="1779" y="2148" width="259" height="74" rx="5"/><text class="t ot"><tspan x="1786" y="2166">③能在原文中找到答案的尽量在原文中找，不</tspan><tspan x="1786" y="2181.6">提倡自作聪明，勉强用自己的话概括。目前推</tspan><tspan x="1786" y="2197.2">断至少有一道题目是可以在原文中找到答案的</tspan><tspan x="1786" y="2212.8">，而且往往是第一题，一分不能丢。</tspan></text></g>
<g id="j4"><rect class="ob" x="1779" y="2251" width="259" height="59" rx="5"/><text class="t ot"><tspan x="1786" y="2269">④实在要概括的题目也请注意分析题干及分值</tspan><tspan x="1786" y="2284.6">设置，推断得分点。找到原文中出处，前后兼</tspan><tspan x="1786" y="2300.2">顾，整体把握。</tspan></text></g>
<g id="j5"><rect class="ob" x="1779" y="2337" width="259" height="43" rx="5"/><text class="t ot"><tspan x="1786" y="2355">⑤字迹工整，写满为止。要点写在前面，答题</tspan><tspan x="1786" y="2370.6">思路要清晰。</tspan></text></g>

<g id="k1"><rect class="kb" x="1593" y="2408" width="200" height="26" rx="5"/><text class="t kt"><tspan x="1599" y="2425.5">★ 各种高考语文答题技巧归纳总结</tspan></text></g>
<g id="k2"><rect class="kb" x="1593" y="2463" width="237" height="26" rx="5"/><text class="t kt"><tspan x="1599" y="2480.5">★ 高考语文各类题型的解题技巧归纳总结</tspan></text></g>
<g id="k3"><rect class="kb" x="1593" y="2517" width="214" height="26" rx="5"/><text class="t kt"><tspan x="1599" y="2534.5">★ 2021高中语文考试答题方法及技巧</tspan></text></g>
<g id="k4"><rect class="kb" x="1593" y="2572" width="228" height="26" rx="5"/><text class="t kt"><tspan x="1599" y="2589.5">★ 2021年高考语文各种答题技巧有哪些</tspan></text></g>
<g id="k5"><rect class="kb" x="1593" y="2627" width="178" height="26" rx="5"/><text class="t kt"><tspan x="1599" y="2644.5">★ 2021高考语文答题技巧最新</tspan></text></g>
<g id="k6"><rect class="kb" x="1593" y="2682" width="239" height="26" rx="5"/><text class="t kt"><tspan x="1599" y="2699.5">★ 超实用高三语文学习方法必看技巧2021</tspan></text></g>
<g id="k7"><rect class="kb" x="1593" y="2737" width="178" height="26" rx="5"/><text class="t kt"><tspan x="1599" y="2754.5">★ 2021高考语文各种答题技巧</tspan></text></g>
<g id="k8"><rect class="kb" x="1593" y="2791" width="190" height="26" rx="5"/><text class="t kt"><tspan x="1599" y="2808.5">★ 2021高考语文超全的答题技巧</tspan></text></g>
<g id="k9"><rect class="kb" x="1593" y="2846" width="173" height="26" rx="5"/><text class="t kt"><tspan x="1599" y="2863.5">★ 高考语文各种答题技巧资料</tspan></text></g>
<g id="k10"><rect class="kb" x="1593" y="2900" width="160" height="26" rx="5"/><text class="t kt"><tspan x="1599" y="2917.5">★ 新高考语文答题模板归纳</tspan></text></g>

<g id="watermark">
<text class="wm" x="646" y="550" transform="rotate(-34 646 513)">树图 shutu.cn</text>
<text class="wm" x="1919" y="550" transform="rotate(-34 1919 513)">树图 shutu.cn</text>
<text class="wm" x="646" y="1538" transform="rotate(-34 646 1501)">树图 shutu.cn</text>
<text class="wm" x="1919" y="1538" transform="rotate(-34 1919 1501)">树图 shutu.cn</text>
<text class="wm" x="646" y="2527" transform="rotate(-34 646 2490)">树图 shutu.cn</text>
<text class="wm" x="1919" y="2527" transform="rotate(-34 1919 2490)">树图 shutu.cn</text>
</g>
</svg>
